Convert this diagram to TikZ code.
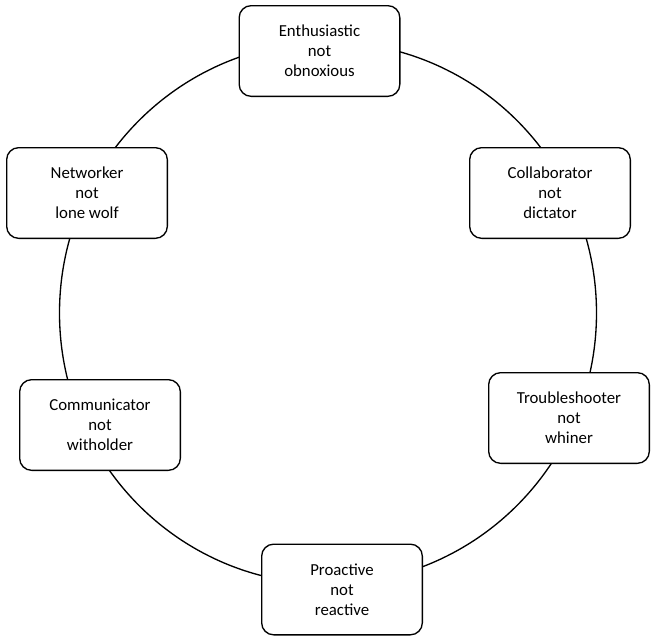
\documentclass[tikz,border=0pt]{standalone}
\usepackage{fontspec}
\setmainfont{Carlito}
\begin{document}
\begin{tikzpicture}[x=0.75pt,y=-0.75pt,
  trait/.style={draw=black,line width=1pt,fill=white,rounded corners=9pt,
    minimum width=120.5pt,minimum height=68pt,align=center,inner sep=2pt,
    font=\fontsize{12.6pt}{15pt}\selectfont}]
\useasboundingbox (0,0) rectangle (654,639);
\coordinate (ctr) at (328,313);
\draw[line width=1pt] (ctr) ellipse [x radius=268.5, y radius=271];
\node[trait] (enth) at (319.5,51) {Enthusiastic\\not\\obnoxious};
\node[trait] (coll) at (550,193) {Collaborator\\not\\dictator};
\node[trait] (trou) at (569,418) {Troubleshooter\\not\\whiner};
\node[trait] (proa) at (342,589.5) {Proactive\\not\\reactive};
\node[trait] (comm) at (100,425) {Communicator\\not\\witholder};
\node[trait] (netw) at (87,193) {Networker\\not\\lone wolf};
\end{tikzpicture}
\end{document}
